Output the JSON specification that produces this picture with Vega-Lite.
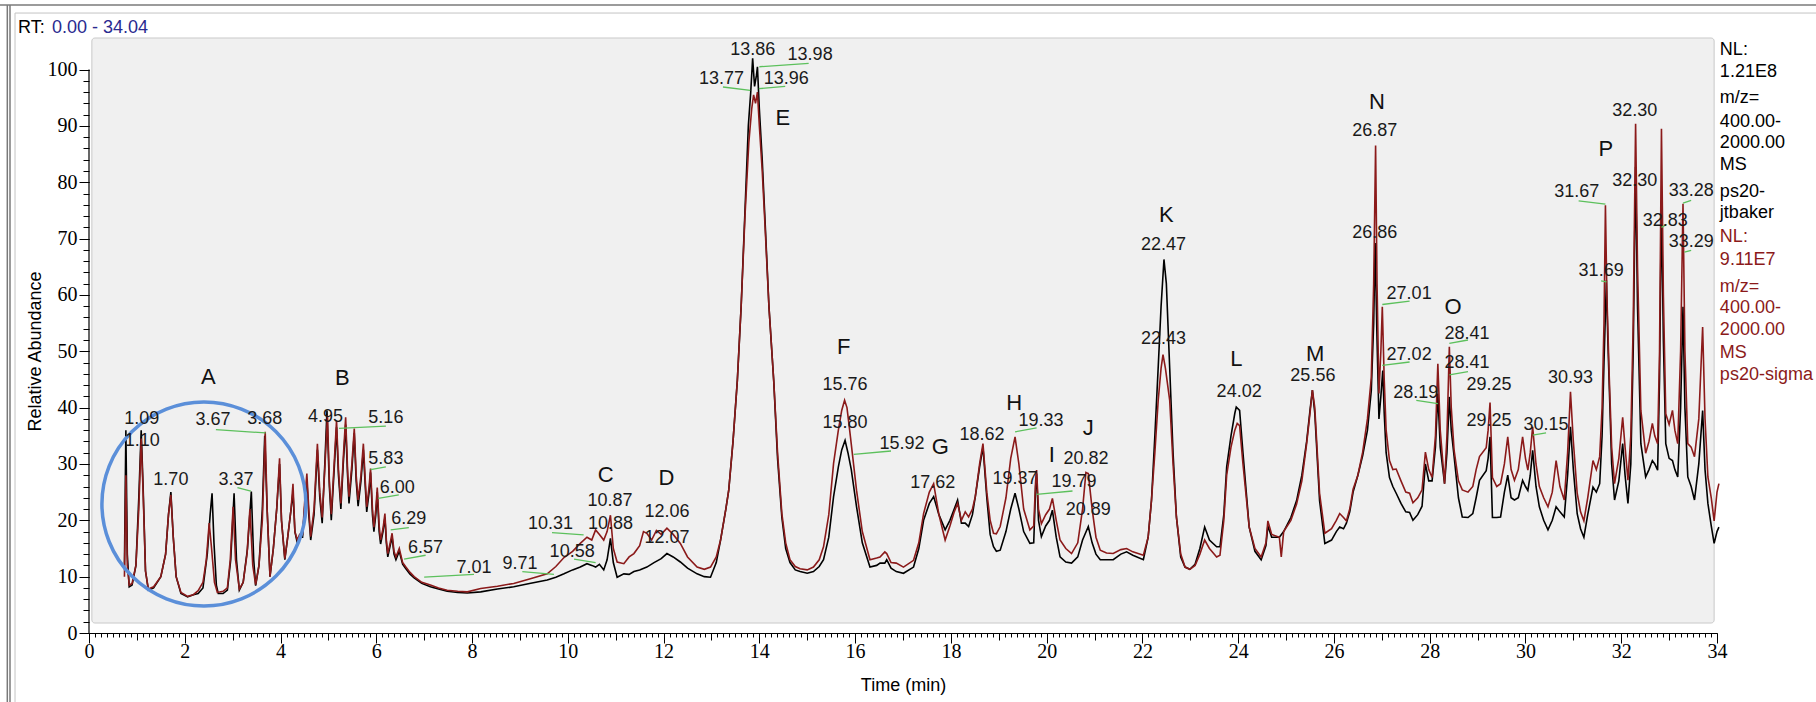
{
  "$schema": "https://vega.github.io/schema/vega-lite/v6.json",
  "width": 1628,
  "height": 595,
  "autosize": {"type": "none"},
  "padding": {"left": 89, "top": 38, "right": 99, "bottom": 69},
  "background": "#ffffff",
  "config": {"view": {"stroke": null}, "axis": {"grid": false}},
  "datasets": {
    "jtbaker": [
      {"t":0.74,"v":12},{"t":0.77,"v":36},{"t":0.80,"v":14},{"t":0.84,"v":8.2},{"t":0.90,"v":8.5},{"t":0.98,"v":12},{"t":1.04,"v":24},{"t":1.09,"v":36},{"t":1.13,"v":26},{"t":1.18,"v":11},{"t":1.24,"v":7.6},{"t":1.35,"v":8.0},{"t":1.50,"v":10},{"t":1.60,"v":14},{"t":1.66,"v":21},{"t":1.71,"v":25},{"t":1.76,"v":17},{"t":1.82,"v":10},{"t":1.92,"v":7.0},{"t":2.06,"v":6.4},{"t":2.18,"v":6.8},{"t":2.28,"v":7.0},{"t":2.38,"v":8},{"t":2.47,"v":14},{"t":2.53,"v":21},{"t":2.57,"v":24.8},{"t":2.61,"v":16},{"t":2.66,"v":8.5},{"t":2.70,"v":7},{"t":2.80,"v":7},{"t":2.89,"v":7.6},{"t":2.96,"v":13},{"t":3.03,"v":24.8},{"t":3.08,"v":13},{"t":3.14,"v":7.6},{"t":3.22,"v":9},{"t":3.31,"v":15},{"t":3.39,"v":25.1},{"t":3.44,"v":13},{"t":3.48,"v":8.4},{"t":3.55,"v":12},{"t":3.62,"v":22},{"t":3.67,"v":35},{"t":3.72,"v":22},{"t":3.78,"v":10},{"t":3.85,"v":15},{"t":3.92,"v":22},{"t":3.98,"v":30},{"t":4.02,"v":20},{"t":4.09,"v":13},{"t":4.15,"v":17},{"t":4.22,"v":22},{"t":4.26,"v":25},{"t":4.30,"v":18},{"t":4.35,"v":16},{"t":4.40,"v":17},{"t":4.46,"v":17},{"t":4.51,"v":23},{"t":4.55,"v":27},{"t":4.59,"v":21},{"t":4.63,"v":16.5},{"t":4.70,"v":21},{"t":4.77,"v":32.5},{"t":4.82,"v":24},{"t":4.87,"v":19.5},{"t":4.93,"v":31},{"t":4.97,"v":39.5},{"t":5.02,"v":26},{"t":5.06,"v":20},{"t":5.12,"v":29},{"t":5.17,"v":36.5},{"t":5.21,"v":28},{"t":5.26,"v":22},{"t":5.31,"v":30},{"t":5.36,"v":37},{"t":5.40,"v":28},{"t":5.43,"v":23},{"t":5.49,"v":29},{"t":5.54,"v":35.5},{"t":5.58,"v":27},{"t":5.62,"v":22.5},{"t":5.68,"v":27},{"t":5.73,"v":32.5},{"t":5.77,"v":26},{"t":5.80,"v":21.5},{"t":5.85,"v":25},{"t":5.88,"v":28.5},{"t":5.92,"v":21},{"t":5.95,"v":18},{"t":5.99,"v":21},{"t":6.02,"v":25},{"t":6.06,"v":18},{"t":6.09,"v":15.8},{"t":6.14,"v":18},{"t":6.18,"v":20.5},{"t":6.21,"v":16},{"t":6.24,"v":13.5},{"t":6.29,"v":15.5},{"t":6.33,"v":17},{"t":6.37,"v":14},{"t":6.41,"v":13},{"t":6.48,"v":14.5},{"t":6.55,"v":12.2},{"t":6.61,"v":11.5},{"t":6.70,"v":10.5},{"t":6.79,"v":9.8},{"t":6.95,"v":8.8},{"t":7.13,"v":8.2},{"t":7.30,"v":7.8},{"t":7.48,"v":7.4},{"t":7.70,"v":7.2},{"t":7.90,"v":7.1},{"t":8.18,"v":7.3},{"t":8.53,"v":7.8},{"t":8.87,"v":8.2},{"t":9.20,"v":8.8},{"t":9.57,"v":9.4},{"t":9.75,"v":9.9},{"t":9.92,"v":10.5},{"t":10.10,"v":11.2},{"t":10.26,"v":11.7},{"t":10.40,"v":12.3},{"t":10.50,"v":12},{"t":10.58,"v":11.7},{"t":10.66,"v":12.2},{"t":10.75,"v":11.2},{"t":10.82,"v":13},{"t":10.89,"v":16.8},{"t":10.95,"v":12.5},{"t":11.03,"v":9.9},{"t":11.17,"v":10.5},{"t":11.28,"v":10.4},{"t":11.38,"v":10.9},{"t":11.50,"v":11.2},{"t":11.65,"v":11.7},{"t":11.80,"v":12.5},{"t":11.95,"v":13.2},{"t":12.07,"v":14.1},{"t":12.20,"v":13.5},{"t":12.35,"v":12.6},{"t":12.50,"v":11.5},{"t":12.70,"v":10.5},{"t":12.85,"v":10},{"t":12.98,"v":9.9},{"t":13.10,"v":12.5},{"t":13.19,"v":16.5},{"t":13.30,"v":22},{"t":13.36,"v":25.3},{"t":13.45,"v":34},{"t":13.54,"v":44.8},{"t":13.62,"v":58},{"t":13.70,"v":75},{"t":13.77,"v":90},{"t":13.82,"v":96},{"t":13.86,"v":102},{"t":13.90,"v":97},{"t":13.94,"v":99},{"t":13.96,"v":100.5},{"t":14.00,"v":93},{"t":14.06,"v":84},{"t":14.12,"v":73},{"t":14.20,"v":58},{"t":14.30,"v":44.8},{"t":14.38,"v":31},{"t":14.47,"v":20.5},{"t":14.55,"v":15},{"t":14.64,"v":12.5},{"t":14.75,"v":11.2},{"t":14.85,"v":10.9},{"t":15.00,"v":10.6},{"t":15.13,"v":10.9},{"t":15.25,"v":11.8},{"t":15.34,"v":13},{"t":15.45,"v":17},{"t":15.55,"v":24.2},{"t":15.65,"v":29.5},{"t":15.72,"v":32.5},{"t":15.79,"v":34.2},{"t":15.85,"v":32},{"t":15.92,"v":29},{"t":16.03,"v":22.4},{"t":16.15,"v":16},{"t":16.31,"v":11.7},{"t":16.45,"v":12},{"t":16.52,"v":12.4},{"t":16.62,"v":12.4},{"t":16.66,"v":13},{"t":16.75,"v":11.5},{"t":16.86,"v":10.9},{"t":17.01,"v":10.6},{"t":17.22,"v":11.7},{"t":17.33,"v":15},{"t":17.43,"v":20},{"t":17.55,"v":23},{"t":17.64,"v":24.2},{"t":17.75,"v":21},{"t":17.88,"v":18.3},{"t":17.98,"v":20},{"t":18.07,"v":22},{"t":18.14,"v":23.6},{"t":18.22,"v":19.5},{"t":18.30,"v":19.5},{"t":18.37,"v":18.9},{"t":18.45,"v":21},{"t":18.51,"v":24.2},{"t":18.60,"v":29.5},{"t":18.67,"v":33},{"t":18.75,"v":24},{"t":18.82,"v":17.5},{"t":18.89,"v":15.3},{"t":18.95,"v":14.5},{"t":19.03,"v":14.7},{"t":19.15,"v":18},{"t":19.25,"v":22},{"t":19.34,"v":24.8},{"t":19.42,"v":22},{"t":19.52,"v":18},{"t":19.65,"v":15.9},{"t":19.73,"v":16},{"t":19.77,"v":26},{"t":19.79,"v":28.3},{"t":19.83,"v":20},{"t":19.89,"v":17.1},{"t":19.98,"v":19},{"t":20.06,"v":20},{"t":20.12,"v":21.8},{"t":20.20,"v":17},{"t":20.28,"v":13.5},{"t":20.40,"v":12.6},{"t":20.52,"v":12.4},{"t":20.65,"v":13.5},{"t":20.75,"v":16.5},{"t":20.87,"v":18.9},{"t":20.95,"v":16},{"t":21.03,"v":14},{"t":21.12,"v":13},{"t":21.25,"v":13},{"t":21.39,"v":13},{"t":21.55,"v":14},{"t":21.67,"v":14.4},{"t":21.80,"v":13.8},{"t":22.02,"v":13},{"t":22.12,"v":17},{"t":22.19,"v":23.6},{"t":22.26,"v":35},{"t":22.33,"v":47.2},{"t":22.39,"v":58},{"t":22.45,"v":66.3},{"t":22.50,"v":62},{"t":22.57,"v":47},{"t":22.64,"v":32},{"t":22.71,"v":20.6},{"t":22.80,"v":13.5},{"t":22.89,"v":11.7},{"t":22.99,"v":11.3},{"t":23.10,"v":12.2},{"t":23.20,"v":15},{"t":23.30,"v":18.8},{"t":23.40,"v":16.5},{"t":23.55,"v":15.3},{"t":23.62,"v":15.3},{"t":23.70,"v":21},{"t":23.76,"v":29.5},{"t":23.85,"v":35},{"t":23.93,"v":39},{"t":23.96,"v":40.1},{"t":24.03,"v":39.5},{"t":24.10,"v":32},{"t":24.23,"v":18.8},{"t":24.35,"v":14.5},{"t":24.48,"v":13},{"t":24.58,"v":15.5},{"t":24.62,"v":19},{"t":24.70,"v":17},{"t":24.86,"v":17},{"t":24.95,"v":18},{"t":25.10,"v":20.5},{"t":25.22,"v":23.5},{"t":25.33,"v":28},{"t":25.43,"v":34},{"t":25.50,"v":39.5},{"t":25.55,"v":43.1},{"t":25.60,"v":39},{"t":25.70,"v":23.5},{"t":25.81,"v":15.9},{"t":25.95,"v":16.5},{"t":26.05,"v":18},{"t":26.12,"v":18.8},{"t":26.20,"v":18.5},{"t":26.26,"v":19.5},{"t":26.33,"v":21.5},{"t":26.40,"v":25},{"t":26.50,"v":28},{"t":26.60,"v":31.5},{"t":26.70,"v":36},{"t":26.78,"v":43},{"t":26.83,"v":55},{"t":26.86,"v":69.2},{"t":26.90,"v":52},{"t":26.94,"v":38},{"t":26.98,"v":42},{"t":27.02,"v":46.6},{"t":27.05,"v":39},{"t":27.09,"v":32},{"t":27.16,"v":27.6},{"t":27.23,"v":26},{"t":27.30,"v":24.8},{"t":27.40,"v":23},{"t":27.50,"v":21.5},{"t":27.58,"v":21.4},{"t":27.65,"v":20},{"t":27.75,"v":21},{"t":27.84,"v":22.5},{"t":27.91,"v":30},{"t":27.98,"v":27},{"t":28.05,"v":27},{"t":28.12,"v":33},{"t":28.17,"v":42.5},{"t":28.22,"v":33},{"t":28.31,"v":26.5},{"t":28.36,"v":32},{"t":28.41,"v":41.9},{"t":28.45,"v":36},{"t":28.51,"v":31.3},{"t":28.60,"v":24},{"t":28.68,"v":20.6},{"t":28.80,"v":20.5},{"t":28.90,"v":21.2},{"t":28.97,"v":24},{"t":29.04,"v":27.1},{"t":29.18,"v":28.8},{"t":29.22,"v":31},{"t":29.26,"v":34.8},{"t":29.31,"v":20.5},{"t":29.40,"v":20.5},{"t":29.48,"v":20.6},{"t":29.56,"v":25},{"t":29.63,"v":28},{"t":29.70,"v":24},{"t":29.77,"v":23.6},{"t":29.85,"v":24},{"t":29.94,"v":27.1},{"t":30.00,"v":26},{"t":30.05,"v":25.3},{"t":30.10,"v":28},{"t":30.15,"v":32.4},{"t":30.22,"v":26},{"t":30.29,"v":22.4},{"t":30.38,"v":20},{"t":30.47,"v":18.3},{"t":30.56,"v":20},{"t":30.64,"v":22.4},{"t":30.72,"v":21.5},{"t":30.81,"v":20.6},{"t":30.88,"v":28},{"t":30.94,"v":36.6},{"t":31.00,"v":29},{"t":31.08,"v":21.2},{"t":31.15,"v":18.5},{"t":31.22,"v":17},{"t":31.30,"v":21},{"t":31.41,"v":25.9},{"t":31.48,"v":25},{"t":31.55,"v":26.5},{"t":31.60,"v":35},{"t":31.64,"v":48},{"t":31.69,"v":62.6},{"t":31.72,"v":52},{"t":31.75,"v":43.7},{"t":31.80,"v":30},{"t":31.86,"v":23.6},{"t":31.95,"v":27},{"t":32.03,"v":33.6},{"t":32.08,"v":28},{"t":32.14,"v":23},{"t":32.20,"v":30},{"t":32.25,"v":50},{"t":32.30,"v":82.7},{"t":32.34,"v":58},{"t":32.41,"v":33.6},{"t":32.51,"v":27.7},{"t":32.58,"v":29},{"t":32.65,"v":30.6},{"t":32.70,"v":30},{"t":32.76,"v":28.9},{"t":32.80,"v":45},{"t":32.84,"v":76.8},{"t":32.88,"v":52},{"t":32.93,"v":33.6},{"t":33.00,"v":31},{"t":33.07,"v":30.6},{"t":33.12,"v":29},{"t":33.18,"v":27.7},{"t":33.24,"v":40},{"t":33.29,"v":57.9},{"t":33.33,"v":40},{"t":33.39,"v":27.7},{"t":33.46,"v":26},{"t":33.53,"v":23.6},{"t":33.62,"v":30},{"t":33.70,"v":39.5},{"t":33.75,"v":29},{"t":33.81,"v":23},{"t":33.88,"v":19},{"t":33.94,"v":15.9},{"t":34.00,"v":18},{"t":34.04,"v":18.8}
    ],
    "sigma": [
      {"t":0.74,"v":10},{"t":0.77,"v":28},{"t":0.80,"v":12},{"t":0.84,"v":8.5},{"t":0.90,"v":8.8},{"t":0.98,"v":12},{"t":1.04,"v":22},{"t":1.09,"v":34.5},{"t":1.13,"v":25},{"t":1.18,"v":11},{"t":1.24,"v":7.8},{"t":1.35,"v":8.2},{"t":1.50,"v":10},{"t":1.60,"v":14},{"t":1.66,"v":21},{"t":1.71,"v":24.5},{"t":1.76,"v":17},{"t":1.82,"v":10},{"t":1.92,"v":7.2},{"t":2.06,"v":6.5},{"t":2.18,"v":6.8},{"t":2.28,"v":7.5},{"t":2.38,"v":9},{"t":2.45,"v":13},{"t":2.51,"v":19.5},{"t":2.56,"v":15},{"t":2.62,"v":9},{"t":2.68,"v":7.2},{"t":2.80,"v":7.4},{"t":2.89,"v":8},{"t":2.95,"v":13},{"t":3.01,"v":22.4},{"t":3.06,"v":13},{"t":3.14,"v":7.8},{"t":3.22,"v":9},{"t":3.30,"v":14},{"t":3.36,"v":22},{"t":3.42,"v":12},{"t":3.48,"v":8.6},{"t":3.55,"v":12},{"t":3.62,"v":20},{"t":3.68,"v":35.7},{"t":3.72,"v":22},{"t":3.78,"v":10},{"t":3.85,"v":15},{"t":3.92,"v":22},{"t":3.98,"v":31},{"t":4.02,"v":20},{"t":4.09,"v":13.2},{"t":4.15,"v":17},{"t":4.22,"v":22},{"t":4.26,"v":26.5},{"t":4.30,"v":18},{"t":4.35,"v":16.5},{"t":4.40,"v":17.5},{"t":4.46,"v":17.5},{"t":4.51,"v":24},{"t":4.55,"v":28.3},{"t":4.59,"v":22},{"t":4.63,"v":17.1},{"t":4.70,"v":22},{"t":4.77,"v":33.6},{"t":4.82,"v":25},{"t":4.87,"v":20.5},{"t":4.93,"v":30},{"t":4.98,"v":38.6},{"t":5.02,"v":27},{"t":5.06,"v":21.1},{"t":5.12,"v":30},{"t":5.17,"v":37.7},{"t":5.21,"v":29},{"t":5.26,"v":23},{"t":5.31,"v":31},{"t":5.36,"v":38.3},{"t":5.40,"v":29},{"t":5.43,"v":24.2},{"t":5.49,"v":30},{"t":5.54,"v":36.3},{"t":5.58,"v":28},{"t":5.62,"v":23.6},{"t":5.68,"v":28},{"t":5.73,"v":33.6},{"t":5.77,"v":27},{"t":5.80,"v":22.4},{"t":5.85,"v":26},{"t":5.88,"v":29.2},{"t":5.92,"v":22},{"t":5.95,"v":18.8},{"t":5.99,"v":22},{"t":6.02,"v":25.8},{"t":6.06,"v":19},{"t":6.09,"v":16.5},{"t":6.14,"v":18.5},{"t":6.18,"v":21.2},{"t":6.21,"v":16.5},{"t":6.24,"v":14.1},{"t":6.29,"v":16},{"t":6.33,"v":17.7},{"t":6.37,"v":14.5},{"t":6.41,"v":13.5},{"t":6.48,"v":15},{"t":6.55,"v":12.5},{"t":6.61,"v":11.8},{"t":6.70,"v":10.8},{"t":6.79,"v":10},{"t":6.95,"v":9.0},{"t":7.13,"v":8.5},{"t":7.30,"v":8.0},{"t":7.48,"v":7.6},{"t":7.70,"v":7.4},{"t":7.90,"v":7.3},{"t":8.18,"v":7.9},{"t":8.53,"v":8.3},{"t":8.87,"v":8.8},{"t":9.20,"v":9.6},{"t":9.57,"v":10.5},{"t":9.75,"v":11.8},{"t":9.92,"v":13.4},{"t":10.10,"v":14.5},{"t":10.26,"v":15.9},{"t":10.40,"v":17},{"t":10.50,"v":16.5},{"t":10.58,"v":18.3},{"t":10.66,"v":17.5},{"t":10.75,"v":16.5},{"t":10.82,"v":18},{"t":10.89,"v":20.9},{"t":10.95,"v":15},{"t":11.03,"v":12.6},{"t":11.17,"v":12.3},{"t":11.28,"v":13.5},{"t":11.38,"v":14.1},{"t":11.50,"v":15.5},{"t":11.58,"v":18},{"t":11.65,"v":17.7},{"t":11.75,"v":16.5},{"t":11.85,"v":18.2},{"t":11.95,"v":17.5},{"t":12.07,"v":18.6},{"t":12.20,"v":17.5},{"t":12.35,"v":15.9},{"t":12.50,"v":13.5},{"t":12.70,"v":11.7},{"t":12.85,"v":11.3},{"t":12.98,"v":11.7},{"t":13.10,"v":13.5},{"t":13.19,"v":16.5},{"t":13.30,"v":22},{"t":13.36,"v":25.3},{"t":13.45,"v":34},{"t":13.54,"v":44.8},{"t":13.62,"v":58},{"t":13.70,"v":74},{"t":13.78,"v":87},{"t":13.84,"v":93},{"t":13.88,"v":95.5},{"t":13.92,"v":94},{"t":13.96,"v":96},{"t":14.00,"v":90},{"t":14.06,"v":82},{"t":14.12,"v":72},{"t":14.20,"v":58},{"t":14.30,"v":44.8},{"t":14.38,"v":32},{"t":14.47,"v":21.2},{"t":14.55,"v":16},{"t":14.64,"v":13},{"t":14.75,"v":11.8},{"t":14.85,"v":11.4},{"t":15.00,"v":11.2},{"t":15.13,"v":11.7},{"t":15.25,"v":13},{"t":15.34,"v":15.3},{"t":15.45,"v":21},{"t":15.55,"v":30.1},{"t":15.65,"v":36},{"t":15.72,"v":39.5},{"t":15.78,"v":41.3},{"t":15.83,"v":40},{"t":15.90,"v":35},{"t":16.03,"v":25.3},{"t":16.15,"v":18},{"t":16.31,"v":13},{"t":16.45,"v":13.3},{"t":16.52,"v":13.5},{"t":16.62,"v":14.4},{"t":16.66,"v":14.1},{"t":16.75,"v":12.5},{"t":16.86,"v":12.4},{"t":17.01,"v":11.7},{"t":17.22,"v":12.9},{"t":17.33,"v":16},{"t":17.43,"v":21.2},{"t":17.55,"v":25},{"t":17.64,"v":26.5},{"t":17.75,"v":21},{"t":17.88,"v":16.5},{"t":17.98,"v":19},{"t":18.07,"v":21.5},{"t":18.14,"v":23},{"t":18.22,"v":20},{"t":18.30,"v":21.5},{"t":18.37,"v":20.6},{"t":18.45,"v":22},{"t":18.51,"v":24.2},{"t":18.60,"v":30},{"t":18.67,"v":33.6},{"t":18.75,"v":25},{"t":18.82,"v":20},{"t":18.89,"v":17.7},{"t":18.95,"v":17.6},{"t":19.03,"v":18.9},{"t":19.15,"v":24},{"t":19.25,"v":31},{"t":19.34,"v":34.8},{"t":19.42,"v":30},{"t":19.52,"v":22},{"t":19.65,"v":18.3},{"t":19.73,"v":19},{"t":19.77,"v":27},{"t":19.79,"v":28.9},{"t":19.83,"v":22},{"t":19.89,"v":19.4},{"t":19.98,"v":21},{"t":20.06,"v":22},{"t":20.12,"v":23.9},{"t":20.20,"v":20},{"t":20.28,"v":16.5},{"t":20.40,"v":15},{"t":20.52,"v":14.1},{"t":20.65,"v":16},{"t":20.75,"v":22},{"t":20.82,"v":28.5},{"t":20.87,"v":28.3},{"t":20.95,"v":22},{"t":21.03,"v":17},{"t":21.12,"v":14.7},{"t":21.25,"v":14.2},{"t":21.39,"v":14.1},{"t":21.55,"v":14.8},{"t":21.67,"v":15},{"t":21.80,"v":14.4},{"t":22.02,"v":13.8},{"t":22.12,"v":17},{"t":22.19,"v":23.6},{"t":22.26,"v":32},{"t":22.33,"v":41.3},{"t":22.39,"v":47},{"t":22.43,"v":49.4},{"t":22.48,"v":47},{"t":22.57,"v":41.3},{"t":22.64,"v":30},{"t":22.71,"v":20.6},{"t":22.80,"v":14},{"t":22.89,"v":11.7},{"t":22.99,"v":11.3},{"t":23.10,"v":12},{"t":23.20,"v":14},{"t":23.30,"v":16.5},{"t":23.40,"v":15},{"t":23.55,"v":13.5},{"t":23.62,"v":13.8},{"t":23.70,"v":20},{"t":23.76,"v":28},{"t":23.85,"v":33},{"t":23.93,"v":36},{"t":23.98,"v":37.2},{"t":24.03,"v":36.8},{"t":24.10,"v":30},{"t":24.23,"v":18.8},{"t":24.35,"v":15},{"t":24.48,"v":13.5},{"t":24.58,"v":16},{"t":24.62,"v":19.9},{"t":24.70,"v":17.5},{"t":24.86,"v":17},{"t":24.90,"v":13.5},{"t":24.95,"v":18},{"t":25.10,"v":20},{"t":25.22,"v":22.9},{"t":25.33,"v":27},{"t":25.43,"v":33.6},{"t":25.50,"v":39},{"t":25.55,"v":43.1},{"t":25.60,"v":40},{"t":25.70,"v":24.8},{"t":25.81,"v":17.7},{"t":25.95,"v":18.5},{"t":26.05,"v":20},{"t":26.12,"v":21.2},{"t":26.20,"v":20.5},{"t":26.26,"v":19.9},{"t":26.33,"v":22},{"t":26.40,"v":25.5},{"t":26.50,"v":28},{"t":26.60,"v":32.1},{"t":26.70,"v":38},{"t":26.78,"v":45.3},{"t":26.83,"v":62},{"t":26.87,"v":86.5},{"t":26.90,"v":62},{"t":26.94,"v":42.5},{"t":26.98,"v":50},{"t":27.01,"v":57.9},{"t":27.05,"v":45},{"t":27.09,"v":36},{"t":27.16,"v":30.6},{"t":27.23,"v":29},{"t":27.30,"v":29.1},{"t":27.40,"v":27},{"t":27.50,"v":25},{"t":27.58,"v":24.8},{"t":27.65,"v":23.1},{"t":27.75,"v":24},{"t":27.84,"v":25.4},{"t":27.91,"v":32.1},{"t":27.98,"v":29},{"t":28.05,"v":27.6},{"t":28.12,"v":35},{"t":28.17,"v":47.8},{"t":28.22,"v":36},{"t":28.31,"v":26.5},{"t":28.36,"v":35},{"t":28.41,"v":50.8},{"t":28.45,"v":40},{"t":28.51,"v":32.4},{"t":28.60,"v":27},{"t":28.68,"v":25.4},{"t":28.80,"v":25},{"t":28.90,"v":26},{"t":28.97,"v":29},{"t":29.04,"v":31.3},{"t":29.18,"v":32.9},{"t":29.22,"v":36},{"t":29.26,"v":40.9},{"t":29.31,"v":27.6},{"t":29.40,"v":26},{"t":29.48,"v":26.5},{"t":29.56,"v":30},{"t":29.63,"v":34.8},{"t":29.70,"v":29},{"t":29.77,"v":27.1},{"t":29.85,"v":29},{"t":29.94,"v":34.8},{"t":30.00,"v":31},{"t":30.05,"v":28.9},{"t":30.10,"v":32},{"t":30.15,"v":36.6},{"t":30.22,"v":30},{"t":30.29,"v":26},{"t":30.38,"v":24},{"t":30.47,"v":22.4},{"t":30.56,"v":25},{"t":30.64,"v":30.6},{"t":30.72,"v":26},{"t":30.81,"v":23.6},{"t":30.88,"v":32},{"t":30.94,"v":42.8},{"t":31.00,"v":34},{"t":31.08,"v":24.8},{"t":31.15,"v":21.5},{"t":31.22,"v":19.9},{"t":31.30,"v":24},{"t":31.41,"v":30.6},{"t":31.48,"v":29},{"t":31.55,"v":31.3},{"t":31.60,"v":40},{"t":31.64,"v":55},{"t":31.67,"v":75.9},{"t":31.70,"v":60},{"t":31.75,"v":45.4},{"t":31.80,"v":33},{"t":31.86,"v":26.5},{"t":31.95,"v":31},{"t":32.03,"v":38.3},{"t":32.08,"v":33},{"t":32.14,"v":27.1},{"t":32.20,"v":35},{"t":32.25,"v":55},{"t":32.30,"v":90.4},{"t":32.34,"v":65},{"t":32.41,"v":39.5},{"t":32.51,"v":31.9},{"t":32.58,"v":34},{"t":32.65,"v":37.2},{"t":32.70,"v":35},{"t":32.76,"v":33.6},{"t":32.80,"v":50},{"t":32.84,"v":89.5},{"t":32.88,"v":60},{"t":32.93,"v":38.9},{"t":33.00,"v":37},{"t":33.07,"v":39.5},{"t":33.12,"v":36},{"t":33.18,"v":33.6},{"t":33.24,"v":50},{"t":33.29,"v":76.2},{"t":33.33,"v":50},{"t":33.39,"v":33.6},{"t":33.46,"v":33},{"t":33.53,"v":31.3},{"t":33.62,"v":38},{"t":33.70,"v":54.3},{"t":33.75,"v":38},{"t":33.81,"v":27.7},{"t":33.88,"v":24},{"t":33.94,"v":19.9},{"t":34.00,"v":25},{"t":34.04,"v":26.5}
    ],
    "peakLabels": [
      {"t":1.10,"v":37.9,"label":"1.09"},{"t":1.11,"v":34.0,"label":"1.10"},{"t":1.71,"v":27.1,"label":"1.70"},
      {"t":2.59,"v":37.8,"label":"3.67"},{"t":3.67,"v":37.9,"label":"3.68"},{"t":3.07,"v":27.2,"label":"3.37"},
      {"t":4.94,"v":38.4,"label":"4.95"},{"t":6.20,"v":38.1,"label":"5.16"},{"t":6.20,"v":30.9,"label":"5.83"},
      {"t":6.44,"v":25.8,"label":"6.00"},{"t":6.68,"v":20.2,"label":"6.29"},{"t":7.03,"v":15.1,"label":"6.57"},
      {"t":8.04,"v":11.6,"label":"7.01"},{"t":9.00,"v":12.2,"label":"9.71"},{"t":9.64,"v":19.3,"label":"10.31"},
      {"t":10.09,"v":14.4,"label":"10.58"},{"t":10.88,"v":23.5,"label":"10.87"},{"t":10.89,"v":19.3,"label":"10.88"},
      {"t":12.07,"v":21.5,"label":"12.06"},{"t":12.07,"v":16.8,"label":"12.07"},
      {"t":13.86,"v":103.5,"label":"13.86"},{"t":15.06,"v":102.6,"label":"13.98"},{"t":13.21,"v":98.3,"label":"13.77"},{"t":14.56,"v":98.3,"label":"13.96"},
      {"t":15.79,"v":44.1,"label":"15.76"},{"t":15.79,"v":37.2,"label":"15.80"},{"t":16.98,"v":33.6,"label":"15.92"},
      {"t":17.62,"v":26.7,"label":"17.62"},{"t":18.65,"v":35.2,"label":"18.62"},{"t":19.88,"v":37.6,"label":"19.33"},
      {"t":19.34,"v":27.3,"label":"19.37"},{"t":20.57,"v":26.8,"label":"19.79"},{"t":20.82,"v":30.8,"label":"20.82"},
      {"t":20.87,"v":21.8,"label":"20.89"},{"t":22.44,"v":68.9,"label":"22.47"},{"t":22.44,"v":52.1,"label":"22.43"},
      {"t":24.02,"v":42.8,"label":"24.02"},{"t":25.56,"v":45.6,"label":"25.56"},{"t":26.85,"v":89.1,"label":"26.87"},
      {"t":26.85,"v":71.0,"label":"26.86"},{"t":27.57,"v":60.2,"label":"27.01"},{"t":27.57,"v":49.4,"label":"27.02"},
      {"t":27.71,"v":42.6,"label":"28.19"},{"t":28.78,"v":53.1,"label":"28.41"},{"t":28.78,"v":47.9,"label":"28.41"},
      {"t":29.24,"v":44.0,"label":"29.25"},{"t":29.24,"v":37.6,"label":"29.25"},{"t":30.43,"v":36.9,"label":"30.15"},
      {"t":30.94,"v":45.3,"label":"30.93"},{"t":31.07,"v":78.3,"label":"31.67"},{"t":31.58,"v":64.2,"label":"31.69"},
      {"t":32.28,"v":92.6,"label":"32.30"},{"t":32.28,"v":80.3,"label":"32.30"},{"t":32.92,"v":73.2,"label":"32.83"},
      {"t":33.46,"v":78.4,"label":"33.28"},{"t":33.46,"v":69.4,"label":"33.29"}
    ],
    "groupLetters": [
      {"t":2.49,"v":45.4,"label":"A"},{"t":5.29,"v":45.3,"label":"B"},{"t":10.79,"v":28.0,"label":"C"},
      {"t":12.06,"v":27.5,"label":"D"},{"t":14.49,"v":91.4,"label":"E"},{"t":15.76,"v":50.8,"label":"F"},
      {"t":17.78,"v":33.0,"label":"G"},{"t":19.32,"v":40.9,"label":"H"},{"t":20.11,"v":31.6,"label":"I"},
      {"t":20.87,"v":36.3,"label":"J"},{"t":22.50,"v":74.1,"label":"K"},{"t":23.96,"v":48.7,"label":"L"},
      {"t":25.61,"v":49.6,"label":"M"},{"t":26.90,"v":94.2,"label":"N"},{"t":28.49,"v":57.8,"label":"O"},
      {"t":31.68,"v":85.9,"label":"P"}
    ],
    "leaders": [
      {"t1":2.65,"v1":36.1,"t2":3.69,"v2":35.5},{"t1":3.10,"v1":25.8,"t2":3.38,"v2":25.2},
      {"t1":5.22,"v1":36.3,"t2":6.20,"v2":36.7},{"t1":5.88,"v1":29.0,"t2":6.20,"v2":29.5},
      {"t1":6.04,"v1":23.9,"t2":6.47,"v2":24.5},{"t1":6.30,"v1":18.3,"t2":6.68,"v2":18.7},
      {"t1":6.58,"v1":13.1,"t2":7.03,"v2":13.8},{"t1":7.00,"v1":9.9,"t2":8.04,"v2":10.4},
      {"t1":9.05,"v1":10.9,"t2":9.71,"v2":10.4},{"t1":9.67,"v1":17.8,"t2":10.33,"v2":17.4},
      {"t1":10.13,"v1":13.1,"t2":10.58,"v2":12.5},{"t1":15.97,"v1":31.7,"t2":16.75,"v2":32.3},
      {"t1":19.34,"v1":35.7,"t2":19.79,"v2":36.4},{"t1":19.79,"v1":24.6,"t2":20.54,"v2":25.2},
      {"t1":13.24,"v1":96.9,"t2":13.81,"v2":96.3},{"t1":14.00,"v1":100.5,"t2":15.03,"v2":101.1},
      {"t1":13.99,"v1":96.6,"t2":14.54,"v2":97.0},{"t1":27.01,"v1":58.3,"t2":27.58,"v2":58.9},
      {"t1":27.01,"v1":47.5,"t2":27.58,"v2":48.1},{"t1":27.72,"v1":41.3,"t2":28.17,"v2":40.7},
      {"t1":28.41,"v1":51.4,"t2":28.80,"v2":52.0},{"t1":28.41,"v1":45.8,"t2":28.80,"v2":46.4},
      {"t1":30.15,"v1":35.1,"t2":30.43,"v2":35.5},{"t1":31.11,"v1":76.7,"t2":31.67,"v2":76.1},
      {"t1":33.29,"v1":76.3,"t2":33.46,"v2":76.8},{"t1":33.32,"v1":67.6,"t2":33.46,"v2":67.9},
      {"t1":32.84,"v1":72.0,"t2":32.95,"v2":72.5},{"t1":31.58,"v1":62.5,"t2":31.69,"v2":62.3}
    ],
    "traceInfo": [
      {"txt":"NL:","v":103.46,"grp":"jt"},{"txt":"1.21E8","v":99.61,"grp":"jt"},{"txt":"m/z=","v":94.94,"grp":"jt"},
      {"txt":"400.00-","v":90.74,"grp":"jt"},{"txt":"2000.00","v":86.96,"grp":"jt"},{"txt":"MS","v":83.05,"grp":"jt"},
      {"txt":"ps20-","v":78.31,"grp":"jt"},{"txt":"jtbaker","v":74.53,"grp":"jt"},
      {"txt":"NL:","v":70.28,"grp":"sg"},{"txt":"9.11E7","v":66.19,"grp":"sg"},{"txt":"m/z=","v":61.45,"grp":"sg"},
      {"txt":"400.00-","v":57.68,"grp":"sg"},{"txt":"2000.00","v":53.77,"grp":"sg"},{"txt":"MS","v":49.69,"grp":"sg"},
      {"txt":"ps20-sigma","v":45.78,"grp":"sg"}
    ],
    "frameDark": [
      {"t1":-1.859,"v1":111.45,"t2":36.07,"v2":111.45},
      {"t1":-1.706,"v1":111.45,"t2":-1.706,"v2":-12.24},
      {"t1":-1.650,"v1":111.45,"t2":-1.650,"v2":-12.24}
    ],
    "frameLight": [
      {"t1":-1.545,"v1":110.03,"t2":36.07,"v2":110.03},
      {"t1":-1.545,"v1":110.03,"t2":-1.545,"v2":-12.24}
    ]
  },
  "resolve": {"axis": {"x": "independent", "y": "independent"}},
  "layer": [
    {
      "data": {"values": [{}]},
      "mark": {"type": "rect", "fill": "#f0f0f0", "stroke": "#c9c9c9", "strokeWidth": 1, "cornerRadius": 3},
      "encoding": {
        "x": {
          "datum": 0.06, "type": "quantitative",
          "scale": {"domain": [0, 34], "nice": false, "zero": false},
          "axis": {
            "orient": "bottom",
            "values": [0,2,4,6,8,10,12,14,16,18,20,22,24,26,28,30,32,34],
            "tickSize": 10, "tickColor": "#000000", "tickWidth": 1,
            "domain": true, "domainColor": "#000000", "domainWidth": 1.2,
            "labelFont": "Liberation Sans Narrow", "labelFontSize": 20, "labelColor": "#000000",
            "labelPadding": -2, "labelFlush": false, "labelOverlap": false,
            "title": "Time (min)", "titleFont": "Liberation Sans", "titleFontSize": 18,
            "titleFontWeight": "normal", "titleColor": "#000000", "titleBaseline": "middle", "titleY": 52,
            "grid": false
          }
        },
        "x2": {"datum": 33.94},
        "y": {
          "datum": 1.77, "type": "quantitative",
          "scale": {"domain": [0, 105.6], "nice": false, "zero": false},
          "axis": {
            "orient": "left",
            "values": [0,10,20,30,40,50,60,70,80,90,100],
            "tickSize": 10, "tickColor": "#000000", "tickWidth": 1,
            "domain": false,
            "labelFont": "Liberation Sans Narrow", "labelFontSize": 20, "labelColor": "#000000",
            "labelPadding": 2, "labelFlush": false, "labelOverlap": false,
            "title": "Relative Abundance", "titleFont": "Liberation Sans", "titleFontSize": 18,
            "titleFontWeight": "normal", "titleColor": "#000000", "titleAngle": -90,
            "titleAlign": "center", "titleBaseline": "middle", "titleX": -54, "titleY": 313,
            "grid": false
          }
        },
        "y2": {"datum": 105.6}
      }
    },
    {
      "data": {"name": "jtbaker"},
      "mark": {"type": "line", "color": "#000000", "strokeWidth": 1.6},
      "encoding": {
        "x": {
          "field": "t", "type": "quantitative",
          "axis": {
            "orient": "bottom",
            "values": [0,0.125,0.25,0.375,0.5,0.625,0.75,0.875,1,1.125,1.25,1.375,1.5,1.625,1.75,1.875,2,2.125,2.25,2.375,2.5,2.625,2.75,2.875,3,3.125,3.25,3.375,3.5,3.625,3.75,3.875,4,4.125,4.25,4.375,4.5,4.625,4.75,4.875,5,5.125,5.25,5.375,5.5,5.625,5.75,5.875,6,6.125,6.25,6.375,6.5,6.625,6.75,6.875,7,7.125,7.25,7.375,7.5,7.625,7.75,7.875,8,8.125,8.25,8.375,8.5,8.625,8.75,8.875,9,9.125,9.25,9.375,9.5,9.625,9.75,9.875,10,10.125,10.25,10.375,10.5,10.625,10.75,10.875,11,11.125,11.25,11.375,11.5,11.625,11.75,11.875,12,12.125,12.25,12.375,12.5,12.625,12.75,12.875,13,13.125,13.25,13.375,13.5,13.625,13.75,13.875,14,14.125,14.25,14.375,14.5,14.625,14.75,14.875,15,15.125,15.25,15.375,15.5,15.625,15.75,15.875,16,16.125,16.25,16.375,16.5,16.625,16.75,16.875,17,17.125,17.25,17.375,17.5,17.625,17.75,17.875,18,18.125,18.25,18.375,18.5,18.625,18.75,18.875,19,19.125,19.25,19.375,19.5,19.625,19.75,19.875,20,20.125,20.25,20.375,20.5,20.625,20.75,20.875,21,21.125,21.25,21.375,21.5,21.625,21.75,21.875,22,22.125,22.25,22.375,22.5,22.625,22.75,22.875,23,23.125,23.25,23.375,23.5,23.625,23.75,23.875,24,24.125,24.25,24.375,24.5,24.625,24.75,24.875,25,25.125,25.25,25.375,25.5,25.625,25.75,25.875,26,26.125,26.25,26.375,26.5,26.625,26.75,26.875,27,27.125,27.25,27.375,27.5,27.625,27.75,27.875,28,28.125,28.25,28.375,28.5,28.625,28.75,28.875,29,29.125,29.25,29.375,29.5,29.625,29.75,29.875,30,30.125,30.25,30.375,30.5,30.625,30.75,30.875,31,31.125,31.25,31.375,31.5,31.625,31.75,31.875,32,32.125,32.25,32.375,32.5,32.625,32.75,32.875,33,33.125,33.25,33.375,33.5,33.625,33.75,33.875,34],
            "tickSize": 4, "tickColor": "#000000", "tickWidth": 1,
            "domain": false, "labels": false, "title": null, "grid": false
          }
        },
        "y": {
          "field": "v", "type": "quantitative",
          "axis": {
            "orient": "left",
            "values": [0,2,4,6,8,10,12,14,16,18,20,22,24,26,28,30,32,34,36,38,40,42,44,46,48,50,52,54,56,58,60,62,64,66,68,70,72,74,76,78,80,82,84,86,88,90,92,94,96,98,100],
            "tickSize": 6, "tickColor": "#000000", "tickWidth": 1,
            "domain": false, "labels": false, "title": null, "grid": false
          }
        }
      }
    },
    {
      "data": {"name": "sigma"},
      "mark": {"type": "line", "color": "#8b1a1a", "strokeWidth": 1.6},
      "encoding": {
        "x": {
          "field": "t", "type": "quantitative",
          "axis": {
            "orient": "bottom",
            "values": [1,3,5,7,9,11,13,15,17,19,21,23,25,27,29,31,33],
            "tickSize": 7, "tickColor": "#000000", "tickWidth": 1,
            "domain": false, "labels": false, "title": null, "grid": false
          }
        },
        "y": {"field": "v", "type": "quantitative", "axis": null}
      }
    },
    {
      "data": {"values": [{}]},
      "mark": {"type": "rule", "color": "#000000", "strokeWidth": 1.2},
      "encoding": {
        "x": {"datum": 0, "type": "quantitative", "axis": null},
        "y": {"datum": 0, "type": "quantitative", "axis": null},
        "y2": {"datum": 100}
      }
    },
    {
      "data": {"name": "frameDark"},
      "mark": {"type": "rule", "color": "#7a7a7a", "strokeWidth": 1.5},
      "encoding": {
        "x": {"field": "t1", "type": "quantitative", "axis": null},
        "x2": {"field": "t2"},
        "y": {"field": "v1", "type": "quantitative", "axis": null},
        "y2": {"field": "v2"}
      }
    },
    {
      "data": {"name": "frameLight"},
      "mark": {"type": "rule", "color": "#c4c4c4", "strokeWidth": 1},
      "encoding": {
        "x": {"field": "t1", "type": "quantitative", "axis": null},
        "x2": {"field": "t2"},
        "y": {"field": "v1", "type": "quantitative", "axis": null},
        "y2": {"field": "v2"}
      }
    },
    {
      "data": {"name": "leaders"},
      "mark": {"type": "rule", "color": "#5cc05c", "strokeWidth": 1.3},
      "encoding": {
        "x": {"field": "t1", "type": "quantitative", "axis": null},
        "x2": {"field": "t2"},
        "y": {"field": "v1", "type": "quantitative", "axis": null},
        "y2": {"field": "v2"}
      }
    },
    {
      "data": {"values": [{"t": 2.40, "v": 22.9}]},
      "mark": {"type": "point", "shape": "circle", "filled": false, "size": 41616, "stroke": "#5b8fd9", "strokeWidth": 3.5, "opacity": 1},
      "encoding": {
        "x": {"field": "t", "type": "quantitative", "axis": null},
        "y": {"field": "v", "type": "quantitative", "axis": null}
      }
    },
    {
      "data": {"name": "peakLabels"},
      "mark": {"type": "text", "font": "Liberation Sans", "fontSize": 18, "color": "#1a1a1a", "align": "center", "baseline": "middle"},
      "encoding": {
        "x": {"field": "t", "type": "quantitative", "axis": null},
        "y": {"field": "v", "type": "quantitative", "axis": null},
        "text": {"field": "label"}
      }
    },
    {
      "data": {"name": "groupLetters"},
      "mark": {"type": "text", "font": "Liberation Sans", "fontSize": 22, "color": "#111111", "align": "center", "baseline": "middle"},
      "encoding": {
        "x": {"field": "t", "type": "quantitative", "axis": null},
        "y": {"field": "v", "type": "quantitative", "axis": null},
        "text": {"field": "label"}
      }
    },
    {
      "data": {"name": "traceInfo"},
      "mark": {"type": "text", "font": "Liberation Sans", "fontSize": 18, "align": "left", "baseline": "middle"},
      "encoding": {
        "x": {"datum": 34.06, "type": "quantitative", "axis": null},
        "y": {"field": "v", "type": "quantitative", "axis": null},
        "text": {"field": "txt"},
        "color": {"field": "grp", "type": "nominal", "scale": {"domain": ["jt", "sg"], "range": ["#000000", "#8b1a1a"]}, "legend": null}
      }
    },
    {
      "data": {"values": [{"txt": "RT:"}]},
      "mark": {"type": "text", "font": "Liberation Sans", "fontSize": 18, "color": "#000000", "align": "left", "baseline": "middle"},
      "encoding": {
        "x": {"datum": -1.483, "type": "quantitative", "axis": null},
        "y": {"datum": 107.45, "type": "quantitative", "axis": null},
        "text": {"field": "txt"}
      }
    },
    {
      "data": {"values": [{"txt": "0.00 - 34.04"}]},
      "mark": {"type": "text", "font": "Liberation Sans", "fontSize": 18, "color": "#2a2a90", "align": "left", "baseline": "middle", "dx": 34},
      "encoding": {
        "x": {"datum": -1.483, "type": "quantitative", "axis": null},
        "y": {"datum": 107.45, "type": "quantitative", "axis": null},
        "text": {"field": "txt"}
      }
    }
  ]
}
